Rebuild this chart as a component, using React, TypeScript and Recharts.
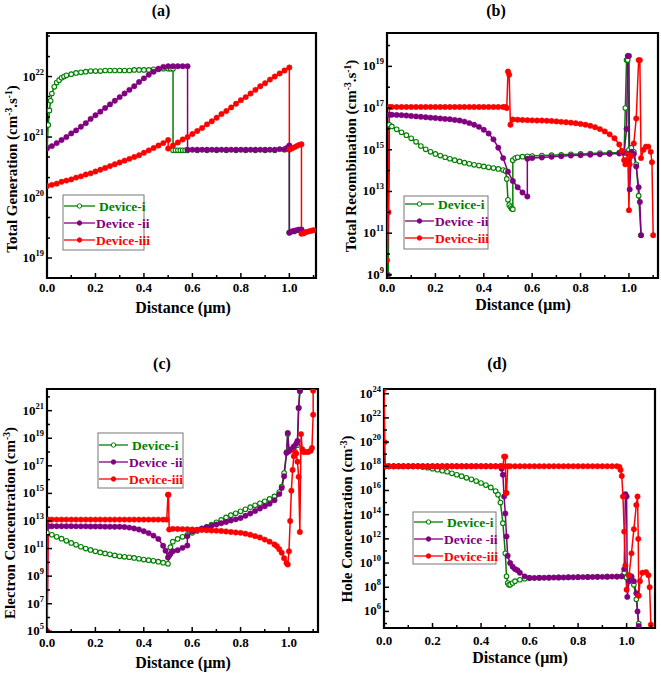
import React from 'react';
import { LineChart, Line, XAxis, YAxis, ReferenceArea } from 'recharts';

type Pt = [number, number];

const FONT = '"Liberation Serif", "Times New Roman", serif';
const devices = ['Device-i', 'Device -ii', 'Device-iii'];
const colors = ['#008000', '#800080', '#ff0000'];
const xTicks = [0, 0.1, 0.2, 0.3, 0.4, 0.5, 0.6, 0.7, 0.8, 0.9, 1.0, 1.1];

// values are log10 of the plotted quantity

// (a) total generation
const genI: Pt[] = [
  [0, 20.83], [0.005, 21.2], [0.01, 21.44], [0.015, 21.6], [0.02, 21.72], [0.03, 21.83], [0.04, 21.9], [0.05, 21.94],
  [0.06, 21.98], [0.07, 22.0], [0.08, 22.02], [0.1, 22.04], [0.12, 22.06], [0.14, 22.07], [0.16, 22.08], [0.18, 22.09],
  [0.2, 22.09], [0.22, 22.09], [0.24, 22.1], [0.26, 22.1], [0.28, 22.1], [0.3, 22.1], [0.32, 22.1], [0.34, 22.1],
  [0.36, 22.11], [0.38, 22.11], [0.4, 22.11], [0.42, 22.11], [0.44, 22.12], [0.46, 22.12], [0.48, 22.13], [0.5, 22.13],
  [0.51, 22.13], [0.52, 22.13], [0.52, 20.78], [0.53, 20.78], [0.54, 20.78], [0.55, 20.78], [0.56, 20.78], [0.57, 20.78],
  [0.58, 20.78], [0.62, 20.78], [0.66, 20.78], [0.7, 20.78], [0.74, 20.78], [0.78, 20.78], [0.82, 20.78], [0.86, 20.78],
  [0.9, 20.78], [0.94, 20.78], [0.98, 20.79], [1.0, 20.8], [1.0, 19.42], [1.02, 19.44], [1.04, 19.46], [1.05, 19.47],
];
const genII: Pt[] = [
  [0, 20.81], [0.02, 20.85], [0.04, 20.9], [0.06, 20.95], [0.08, 21.0], [0.1, 21.06], [0.12, 21.11], [0.14, 21.17],
  [0.16, 21.23], [0.18, 21.3], [0.2, 21.36], [0.22, 21.42], [0.24, 21.48], [0.26, 21.54], [0.28, 21.6], [0.3, 21.66],
  [0.32, 21.72], [0.34, 21.78], [0.36, 21.84], [0.38, 21.91], [0.4, 21.97], [0.42, 22.03], [0.44, 22.08], [0.46, 22.13],
  [0.48, 22.16], [0.5, 22.17], [0.52, 22.17], [0.54, 22.17], [0.56, 22.17], [0.58, 22.17], [0.58, 20.79], [0.6, 20.79],
  [0.62, 20.79], [0.64, 20.79], [0.66, 20.79], [0.68, 20.79], [0.7, 20.79], [0.72, 20.79], [0.74, 20.79], [0.76, 20.79],
  [0.78, 20.79], [0.8, 20.79], [0.82, 20.79], [0.84, 20.79], [0.86, 20.79], [0.88, 20.79], [0.9, 20.79], [0.92, 20.79],
  [0.94, 20.79], [0.96, 20.8], [0.98, 20.8], [0.99, 20.82], [1.0, 20.86], [1.0, 19.42], [1.01, 19.44], [1.02, 19.45],
  [1.03, 19.46], [1.04, 19.47], [1.05, 19.47],
];
const genIII: Pt[] = [
  [0, 20.19], [0.02, 20.21], [0.04, 20.23], [0.06, 20.26], [0.08, 20.28], [0.1, 20.3], [0.12, 20.33], [0.14, 20.35],
  [0.16, 20.38], [0.18, 20.4], [0.2, 20.43], [0.22, 20.46], [0.24, 20.49], [0.26, 20.52], [0.28, 20.55], [0.3, 20.58],
  [0.32, 20.61], [0.34, 20.64], [0.36, 20.67], [0.38, 20.7], [0.4, 20.74], [0.42, 20.78], [0.44, 20.82], [0.46, 20.86],
  [0.48, 20.9], [0.5, 20.95], [0.5, 20.81], [0.52, 20.86], [0.54, 20.91], [0.56, 20.96], [0.58, 21.0], [0.6, 21.05],
  [0.62, 21.1], [0.64, 21.15], [0.66, 21.21], [0.68, 21.26], [0.7, 21.32], [0.72, 21.38], [0.74, 21.43], [0.76, 21.49],
  [0.78, 21.55], [0.8, 21.61], [0.82, 21.66], [0.84, 21.72], [0.86, 21.78], [0.88, 21.84], [0.9, 21.89], [0.92, 21.95],
  [0.94, 22.0], [0.96, 22.05], [0.98, 22.1], [1.0, 22.15], [1.0, 20.79], [1.01, 20.81], [1.02, 20.83], [1.03, 20.85],
  [1.04, 20.87], [1.05, 20.88], [1.05, 19.4], [1.06, 19.41], [1.07, 19.43], [1.08, 19.44], [1.09, 19.45], [1.1, 19.46],
];

// (b) total recombination
const recI: Pt[] = [
  [0.005, 9], [0.01, 16.2], [0.02, 16.12], [0.04, 15.98], [0.06, 15.84], [0.08, 15.7], [0.1, 15.55], [0.12, 15.38],
  [0.14, 15.18], [0.16, 15.02], [0.18, 14.9], [0.2, 14.8], [0.22, 14.72], [0.24, 14.64], [0.26, 14.57], [0.28, 14.5],
  [0.3, 14.44], [0.32, 14.38], [0.34, 14.33], [0.36, 14.28], [0.38, 14.24], [0.4, 14.2], [0.42, 14.16], [0.44, 14.12],
  [0.46, 14.08], [0.48, 14.03], [0.49, 13.98], [0.495, 13.6], [0.5, 12.6], [0.505, 12.35], [0.51, 12.25], [0.515, 12.18],
  [0.52, 12.15], [0.52, 14.5], [0.53, 14.6], [0.54, 14.64], [0.56, 14.67], [0.58, 14.69], [0.6, 14.7], [0.64, 14.72],
  [0.68, 14.74], [0.72, 14.76], [0.76, 14.78], [0.8, 14.8], [0.84, 14.82], [0.88, 14.84], [0.92, 14.85], [0.96, 14.87],
  [0.98, 14.9], [0.985, 17], [0.99, 19.3], [0.995, 19.3], [1.0, 15], [1.01, 15.1], [1.02, 14.9], [1.03, 14.3],
  [1.04, 12.8], [1.05, 10.9],
];
const recII: Pt[] = [
  [0, 9], [0.005, 12], [0.01, 16.68], [0.02, 16.68], [0.04, 16.67], [0.06, 16.66], [0.08, 16.64], [0.1, 16.62],
  [0.12, 16.6], [0.14, 16.58], [0.16, 16.56], [0.18, 16.54], [0.2, 16.52], [0.22, 16.5], [0.24, 16.48], [0.26, 16.46],
  [0.28, 16.43], [0.3, 16.4], [0.32, 16.35], [0.34, 16.28], [0.36, 16.2], [0.38, 16.1], [0.4, 15.96], [0.42, 15.78],
  [0.44, 15.5], [0.46, 15.1], [0.48, 14.6], [0.5, 13.95], [0.52, 13.5], [0.54, 13.2], [0.56, 12.95], [0.58, 12.76],
  [0.58, 14.57], [0.6, 14.6], [0.64, 14.63], [0.68, 14.66], [0.72, 14.69], [0.76, 14.72], [0.8, 14.74], [0.84, 14.76],
  [0.88, 14.78], [0.92, 14.8], [0.96, 14.82], [0.98, 14.85], [0.99, 16], [0.995, 19.5], [1.0, 19.5], [1.003, 13.1],
  [1.01, 14.9], [1.02, 14.8], [1.03, 14.2], [1.04, 13.2], [1.045, 12.5], [1.05, 10.9],
];
const recIII: Pt[] = [
  [0, 9.7], [0.005, 12], [0.01, 17.05], [0.02, 17.05], [0.04, 17.05], [0.06, 17.05], [0.08, 17.05], [0.1, 17.05],
  [0.12, 17.05], [0.14, 17.05], [0.16, 17.05], [0.18, 17.05], [0.2, 17.05], [0.22, 17.05], [0.24, 17.05], [0.26, 17.05],
  [0.28, 17.05], [0.3, 17.05], [0.32, 17.05], [0.34, 17.05], [0.36, 17.05], [0.38, 17.05], [0.4, 17.05], [0.42, 17.05],
  [0.44, 17.05], [0.46, 17.05], [0.48, 17.05], [0.49, 17.05], [0.495, 17.0], [0.5, 18.75], [0.505, 18.6], [0.51, 16.2],
  [0.52, 16.45], [0.54, 16.44], [0.56, 16.43], [0.58, 16.42], [0.6, 16.41], [0.62, 16.4], [0.64, 16.4], [0.66, 16.39],
  [0.68, 16.38], [0.7, 16.36], [0.72, 16.34], [0.74, 16.32], [0.76, 16.3], [0.78, 16.27], [0.8, 16.24], [0.82, 16.2],
  [0.84, 16.15], [0.86, 16.08], [0.88, 15.99], [0.9, 15.88], [0.92, 15.74], [0.94, 15.55], [0.96, 15.25], [0.97, 14.95],
  [0.98, 14.5], [0.985, 14.3], [0.99, 14.5], [0.995, 14.8], [1.0, 12.1], [1.003, 14.3], [1.01, 14.7], [1.02, 15.3],
  [1.03, 16.5], [1.04, 19.3], [1.045, 19.3], [1.05, 14.6], [1.06, 15.0], [1.07, 15.15], [1.08, 15.15], [1.09, 14.9],
  [1.095, 14.4], [1.1, 10.9],
];

// (c) electron concentration
const elecI: Pt[] = [
  [0, 12.14], [0.02, 12.0], [0.04, 11.85], [0.06, 11.72], [0.08, 11.56], [0.1, 11.41], [0.12, 11.27], [0.14, 11.13],
  [0.16, 11.0], [0.18, 10.9], [0.2, 10.8], [0.22, 10.72], [0.24, 10.65], [0.26, 10.58], [0.28, 10.5], [0.3, 10.44],
  [0.32, 10.4], [0.34, 10.37], [0.36, 10.32], [0.38, 10.26], [0.4, 10.2], [0.42, 10.16], [0.44, 10.11], [0.46, 10.05],
  [0.48, 9.98], [0.5, 9.89], [0.505, 10.5], [0.51, 11.1], [0.52, 11.5], [0.54, 11.7], [0.56, 11.85], [0.58, 12.0],
  [0.6, 12.14], [0.62, 12.28], [0.64, 12.42], [0.66, 12.58], [0.68, 12.74], [0.7, 12.9], [0.72, 13.08], [0.74, 13.26],
  [0.76, 13.42], [0.78, 13.56], [0.8, 13.7], [0.82, 13.85], [0.84, 14.0], [0.86, 14.14], [0.88, 14.28], [0.9, 14.43],
  [0.92, 14.6], [0.94, 14.78], [0.96, 15.1], [0.97, 15.5], [0.98, 16.48], [0.99, 18.0], [0.995, 19.3], [1.0, 18.1],
  [1.02, 18.3], [1.035, 18.5], [1.04, 21.2], [1.045, 22.4],
];
const elecII: Pt[] = [
  [0, 5], [0.005, 12.62], [0.02, 12.62], [0.04, 12.62], [0.06, 12.62], [0.08, 12.62], [0.1, 12.62], [0.12, 12.61],
  [0.14, 12.61], [0.16, 12.61], [0.18, 12.6], [0.2, 12.6], [0.22, 12.6], [0.24, 12.59], [0.26, 12.59], [0.28, 12.58],
  [0.3, 12.58], [0.32, 12.56], [0.34, 12.52], [0.36, 12.46], [0.38, 12.38], [0.4, 12.26], [0.42, 12.12], [0.44, 11.94],
  [0.46, 11.7], [0.48, 11.2], [0.49, 10.85], [0.5, 10.35], [0.51, 10.6], [0.52, 10.8], [0.54, 10.88], [0.56, 11.05],
  [0.58, 11.22], [0.58, 11.9], [0.6, 12.26], [0.62, 12.36], [0.64, 12.46], [0.66, 12.55], [0.68, 12.65], [0.7, 12.74],
  [0.72, 12.84], [0.74, 12.93], [0.76, 13.03], [0.78, 13.12], [0.8, 13.22], [0.82, 13.38], [0.84, 13.54], [0.86, 13.72],
  [0.88, 13.9], [0.9, 14.07], [0.92, 14.25], [0.94, 14.5], [0.96, 14.95], [0.97, 15.4], [0.98, 16.24], [0.99, 17.93],
  [0.995, 19.38], [1.0, 18.05], [1.01, 18.2], [1.02, 18.4], [1.03, 18.6], [1.035, 18.8], [1.04, 21.2], [1.045, 22.45],
];
const elecIII: Pt[] = [
  [0, 5], [0.005, 13.1], [0.02, 13.1], [0.04, 13.1], [0.06, 13.1], [0.08, 13.1], [0.1, 13.1], [0.12, 13.1],
  [0.14, 13.1], [0.16, 13.1], [0.18, 13.1], [0.2, 13.1], [0.22, 13.1], [0.24, 13.1], [0.26, 13.1], [0.28, 13.1],
  [0.3, 13.1], [0.32, 13.1], [0.34, 13.1], [0.36, 13.1], [0.38, 13.1], [0.4, 13.1], [0.42, 13.1], [0.44, 13.1],
  [0.46, 13.1], [0.48, 13.1], [0.495, 13.1], [0.5, 14.9], [0.502, 14.9], [0.505, 12.38], [0.52, 12.43], [0.54, 12.42],
  [0.56, 12.41], [0.58, 12.4], [0.6, 12.38], [0.62, 12.36], [0.64, 12.35], [0.66, 12.33], [0.68, 12.31], [0.7, 12.3],
  [0.72, 12.27], [0.74, 12.24], [0.76, 12.2], [0.78, 12.17], [0.8, 12.14], [0.82, 12.08], [0.84, 12.0], [0.86, 11.9],
  [0.88, 11.8], [0.9, 11.65], [0.92, 11.5], [0.94, 11.3], [0.95, 11.17], [0.96, 10.95], [0.97, 10.7], [0.98, 10.3],
  [0.99, 9.95], [0.995, 9.84], [1.0, 10.8], [1.005, 13.0], [1.01, 15.2], [1.015, 16.7], [1.02, 17.7], [1.025, 18.0],
  [1.03, 17.9], [1.035, 17.3], [1.04, 16.2], [1.045, 12.2], [1.05, 19.3], [1.055, 18.2], [1.06, 18.0], [1.07, 18.0],
  [1.08, 18.0], [1.09, 18.1], [1.095, 18.3], [1.1, 20.7], [1.1, 22.45],
];

// (d) hole concentration
const holeI: Pt[] = [
  [0.005, 18.0], [0.02, 18.0], [0.04, 18.0], [0.06, 18.0], [0.08, 18.0], [0.1, 18.0], [0.12, 18.0], [0.14, 18.0],
  [0.16, 17.95], [0.18, 17.88], [0.2, 17.8], [0.22, 17.72], [0.24, 17.64], [0.26, 17.55], [0.28, 17.42], [0.3, 17.3],
  [0.32, 17.18], [0.34, 17.05], [0.36, 16.92], [0.38, 16.78], [0.4, 16.62], [0.42, 16.45], [0.44, 16.25], [0.46, 15.95],
  [0.47, 15.65], [0.48, 15.0], [0.49, 13.3], [0.5, 10.8], [0.505, 8.9], [0.51, 8.35], [0.515, 8.2], [0.52, 8.2],
  [0.53, 8.35], [0.54, 8.5], [0.56, 8.62], [0.58, 8.7], [0.6, 8.77], [0.64, 8.78], [0.68, 8.8], [0.72, 8.81],
  [0.76, 8.82], [0.8, 8.84], [0.84, 8.85], [0.88, 8.86], [0.92, 8.87], [0.96, 8.88], [0.98, 8.9], [0.99, 9.2],
  [1.0, 8.8], [1.01, 8.9], [1.02, 8.8], [1.03, 8.2], [1.04, 7.0], [1.05, 5.0],
];
const holeII: Pt[] = [
  [0.005, 18.0], [0.02, 18.0], [0.04, 18.0], [0.06, 18.0], [0.08, 18.0], [0.1, 18.0], [0.12, 18.0], [0.14, 18.0],
  [0.16, 18.0], [0.18, 18.0], [0.2, 18.0], [0.22, 18.0], [0.24, 18.0], [0.26, 18.0], [0.28, 18.0], [0.3, 18.0],
  [0.32, 18.0], [0.34, 18.0], [0.36, 18.0], [0.38, 18.0], [0.4, 18.0], [0.42, 18.0], [0.44, 18.0], [0.46, 18.0],
  [0.48, 18.0], [0.485, 17.8], [0.49, 17.3], [0.495, 15.5], [0.5, 14.1], [0.505, 12.2], [0.51, 10.6], [0.52, 10.0],
  [0.53, 9.7], [0.54, 9.5], [0.55, 9.4], [0.56, 9.2], [0.58, 8.9], [0.6, 8.77], [0.62, 8.77], [0.64, 8.78],
  [0.66, 8.78], [0.68, 8.79], [0.7, 8.8], [0.72, 8.8], [0.74, 8.81], [0.76, 8.82], [0.78, 8.82], [0.8, 8.83],
  [0.82, 8.84], [0.84, 8.84], [0.86, 8.85], [0.88, 8.86], [0.9, 8.86], [0.92, 8.87], [0.94, 8.88], [0.96, 8.88],
  [0.98, 8.9], [0.99, 9.5], [0.995, 15.7], [1.0, 15.5], [1.003, 7.2], [1.01, 8.5], [1.02, 8.9], [1.03, 8.5],
  [1.04, 7.5], [1.045, 6.0], [1.05, 4.8],
];
const holeIII: Pt[] = [
  [0, 24.4], [0.003, 20], [0.005, 18.0], [0.02, 18.0], [0.04, 18.0], [0.06, 18.0], [0.08, 18.0], [0.1, 18.0],
  [0.12, 18.0], [0.14, 18.0], [0.16, 18.0], [0.18, 18.0], [0.2, 18.0], [0.22, 18.0], [0.24, 18.0], [0.26, 18.0],
  [0.28, 18.0], [0.3, 18.0], [0.32, 18.0], [0.34, 18.0], [0.36, 18.0], [0.38, 18.0], [0.4, 18.0], [0.42, 18.0],
  [0.44, 18.0], [0.46, 18.0], [0.48, 18.0], [0.49, 18.0], [0.495, 18.8], [0.5, 18.8], [0.502, 15.8], [0.505, 15.8],
  [0.51, 18.0], [0.52, 18.0], [0.54, 18.0], [0.56, 18.0], [0.58, 18.0], [0.6, 18.0], [0.62, 18.0], [0.64, 18.0],
  [0.66, 18.0], [0.68, 18.0], [0.7, 18.0], [0.72, 18.0], [0.74, 18.0], [0.76, 18.0], [0.78, 18.0], [0.8, 18.0],
  [0.82, 18.0], [0.84, 18.0], [0.86, 18.0], [0.88, 18.0], [0.9, 18.0], [0.92, 18.0], [0.94, 18.0], [0.96, 18.0],
  [0.97, 17.95], [0.975, 17.7], [0.98, 17.2], [0.985, 15.5], [0.99, 12.6], [0.995, 9.8], [1.0, 7.8], [1.01, 9.0],
  [1.02, 10.8], [1.03, 12.8], [1.04, 14.8], [1.045, 15.5], [1.048, 12.0], [1.05, 7.3], [1.055, 8.5], [1.065, 9.2],
  [1.08, 9.25], [1.09, 9.0], [1.095, 8.0], [1.1, 4.9],
];

const yTicksA = [19, 19.33, 19.67, 20, 20.33, 20.67, 21, 21.33, 21.67, 22, 22.33, 22.67];
const yLabelsA = [19, 20, 21, 22];
const yTicksB = [9, 10, 11, 12, 13, 14, 15, 16, 17, 18, 19, 20];
const yLabelsB = [9, 11, 13, 15, 17, 19];
const yTicksC = [5, 6, 7, 8, 9, 10, 11, 12, 13, 14, 15, 16, 17, 18, 19, 20, 21, 22];
const yLabelsC = [5, 7, 9, 11, 13, 15, 17, 19, 21];
const yTicksD = [5, 6, 7, 8, 9, 10, 11, 12, 13, 14, 15, 16, 17, 18, 19, 20, 21, 22, 23, 24];
const yLabelsD = [6, 8, 10, 12, 14, 16, 18, 20, 22, 24];

type Box = { left: number; top: number; w: number; h: number };
type Rect = { l: number; t: number; r: number; b: number };

const Panel = ({ box, plot, xMax, yDomain, yTicks, yLabels, series, xLabelDy }: {
  box: Box; plot: Rect; xMax: number; yDomain: [number, number]; yTicks: number[]; yLabels: number[];
  series: Pt[][]; xLabelDy: number;
}) => {
  const yw = plot.l - box.left;
  const xh = box.top + box.h - plot.b;
  const pl = yw;
  const pb = box.h - xh;

  const renderXTick = (p: any) => {
    const v = p.payload.value;
    const major = Math.round(v * 10) % 2 === 0;
    return (
      <g>
        <line x1={p.x} x2={p.x} y1={pb} y2={pb - (major ? 5 : 3)} stroke="#000" strokeWidth={1.5} />
        {major && (
          <text x={p.x} y={pb + xLabelDy} textAnchor="middle" fontSize={13} fontWeight="bold" fontFamily={FONT} fill="#000">
            {v.toFixed(1)}
          </text>
        )}
      </g>
    );
  };

  const renderYTick = (p: any) => {
    const v = p.payload.value;
    const major = yLabels.includes(v);
    return (
      <g>
        <line x1={pl} x2={pl + (major ? 5 : 3)} y1={p.y} y2={p.y} stroke="#000" strokeWidth={1.5} />
        {major && (
          <text x={pl - 3} y={p.y + 4} textAnchor="end" fontSize={13} fontWeight="bold" fontFamily={FONT} fill="#000">
            <tspan>10</tspan>
            <tspan dy={-6} fontSize={8.5}>{v}</tspan>
          </text>
        )}
      </g>
    );
  };

  return (
    <div style={{ position: 'absolute', left: box.left, top: box.top }}>
      <LineChart
        width={box.w}
        height={box.h}
        margin={{ top: plot.t - box.top, right: box.left + box.w - plot.r, left: 0, bottom: 0 }}
      >
        <XAxis type="number" dataKey="x" domain={[0, xMax]} ticks={xTicks} interval={0} height={xh}
          axisLine={false} tickLine={false} tick={renderXTick} allowDataOverflow />
        <YAxis type="number" dataKey="y" domain={yDomain} ticks={yTicks} interval={0} width={yw}
          axisLine={false} tickLine={false} tick={renderYTick} allowDataOverflow />
        <ReferenceArea x1={0} x2={xMax} y1={yDomain[0]} y2={yDomain[1]} fill="none" stroke="#000" strokeWidth={2.2} />
        {series.map((pts, i) => (
          <Line
            key={devices[i]}
            data={pts.map(([x, y]) => ({ x, y }))}
            dataKey="y"
            type="linear"
            stroke={colors[i]}
            strokeWidth={1.5}
            dot={i === 0
              ? { r: 2.3, fill: '#fff', stroke: colors[i], strokeWidth: 1.1 }
              : { r: 2.7, fill: colors[i], stroke: colors[i], strokeWidth: 0.5 }}
            activeDot={false}
            isAnimationActive={false}
          />
        ))}
      </LineChart>
    </div>
  );
};

const LegendBox = ({ x, y, w, h, rows, lx1, lx2, tx }: {
  x: number; y: number; w: number; h: number; rows: number[]; lx1: number; lx2: number; tx: number;
}) => (
  <g>
    <rect x={x} y={y} width={w} height={h} fill="#fff" stroke="#777" strokeWidth={1} />
    {rows.map((ry, i) => (
      <g key={i}>
        <line x1={lx1} x2={lx2} y1={ry} y2={ry} stroke={colors[i]} strokeWidth={1.3} />
        <circle cx={(lx1 + lx2) / 2} cy={ry} r={2.2} fill={i === 0 ? '#fff' : colors[i]} stroke={colors[i]} strokeWidth={1} />
        <text x={tx + (i === 0 ? 3 : 0)} y={ry + 4.5} fontSize={13.5} fontWeight="bold" fontFamily={FONT} fill={colors[i]}>{devices[i]}</text>
      </g>
    ))}
  </g>
);

const YTitle = ({ cx, cy, children }: { cx: number; cy: number; children: React.ReactNode }) => (
  <text x={cx} y={cy} dy="0.35em" transform={`rotate(-90 ${cx} ${cy})`} textAnchor="middle" fontSize={15}
    fontWeight="bold" fontFamily={FONT} fill="#000">{children}</text>
);

const Label = ({ x, y, size, children }: { x: number; y: number; size: number; children: React.ReactNode }) => (
  <text x={x} y={y} textAnchor="middle" fontSize={size} fontWeight="bold" fontFamily={FONT} fill="#000">{children}</text>
);

export default function App() {
  return (
    <div style={{ position: 'absolute', left: 0, top: 0, width: 661, height: 673, background: '#fff', overflow: 'hidden' }}>
      <Panel box={{ left: 0, top: 0, w: 330, h: 330 }} plot={{ l: 47, t: 33, r: 316, b: 278 }} xMax={1.11}
        yDomain={[18.67, 22.72]} yTicks={yTicksA} yLabels={yLabelsA} series={[genI, genII, genIII]} xLabelDy={14} />
      <Panel box={{ left: 330, top: 0, w: 331, h: 330 }} plot={{ l: 387, t: 33, r: 658, b: 278 }} xMax={1.12}
        yDomain={[8.85, 20.6]} yTicks={yTicksB} yLabels={yLabelsB} series={[recI, recII, recIII]} xLabelDy={14} />
      <Panel box={{ left: 0, top: 336, w: 330, h: 337 }} plot={{ l: 47, t: 389, r: 318, b: 632 }} xMax={1.12}
        yDomain={[4.95, 22.57]} yTicks={yTicksC} yLabels={yLabelsC} series={[elecI, elecII, elecIII]} xLabelDy={15} />
      <Panel box={{ left: 330, top: 336, w: 331, h: 337 }} plot={{ l: 384, t: 389, r: 655, b: 628 }} xMax={1.117}
        yDomain={[4.63, 24.39]} yTicks={yTicksD} yLabels={yLabelsD} series={[holeI, holeII, holeIII]} xLabelDy={17} />

      <svg width={661} height={673} style={{ position: 'absolute', left: 0, top: 0, pointerEvents: 'none' }}>
        <Label x={161} y={16} size={16}>(a)</Label>
        <Label x={496} y={16} size={16}>(b)</Label>
        <Label x={162} y={369} size={16}>(c)</Label>
        <Label x={497} y={369} size={16}>(d)</Label>

        <Label x={183} y={313} size={16}>Distance (μm)</Label>
        <Label x={523} y={310} size={16}>Distance (μm)</Label>
        <Label x={183} y={668} size={16}>Distance (μm)</Label>
        <Label x={520} y={663} size={16}>Distance (μm)</Label>

        <YTitle cx={12} cy={169}>
          <tspan>Total Generation (cm</tspan><tspan dy={-5} fontSize={9.5}>-3</tspan>
          <tspan dy={5}>.s</tspan><tspan dy={-5} fontSize={9.5}>-1</tspan><tspan dy={5}>)</tspan>
        </YTitle>
        <YTitle cx={351} cy={156}>
          <tspan>Total Recombination  (cm</tspan><tspan dy={-5} fontSize={9.5}>-3</tspan>
          <tspan dy={5}>.s</tspan><tspan dy={-5} fontSize={9.5}>-1</tspan><tspan dy={5}>)</tspan>
        </YTitle>
        <YTitle cx={10} cy={523}>
          <tspan>Electron Concentration (cm</tspan><tspan dy={-5} fontSize={9.5}>-3</tspan><tspan dy={5}>)</tspan>
        </YTitle>
        <YTitle cx={347} cy={519}>
          <tspan>Hole  Concentration (cm</tspan><tspan dy={-5} fontSize={9.5}>-3</tspan><tspan dy={5}>)</tspan>
        </YTitle>

        <LegendBox x={63} y={195} w={81} h={55} rows={[206, 223, 240]} lx1={64} lx2={95} tx={96} />
        <LegendBox x={404} y={196} w={84} h={53} rows={[204, 221, 238]} lx1={405} lx2={434} tx={435} />
        <LegendBox x={98} y={433} w={85} h={55} rows={[445, 462, 479]} lx1={99} lx2={128} tx={129} />
        <LegendBox x={413} y={512} w={83} h={52} rows={[522, 539, 556]} lx1={414} lx2={443} tx={444} />
      </svg>
    </div>
  );
}
